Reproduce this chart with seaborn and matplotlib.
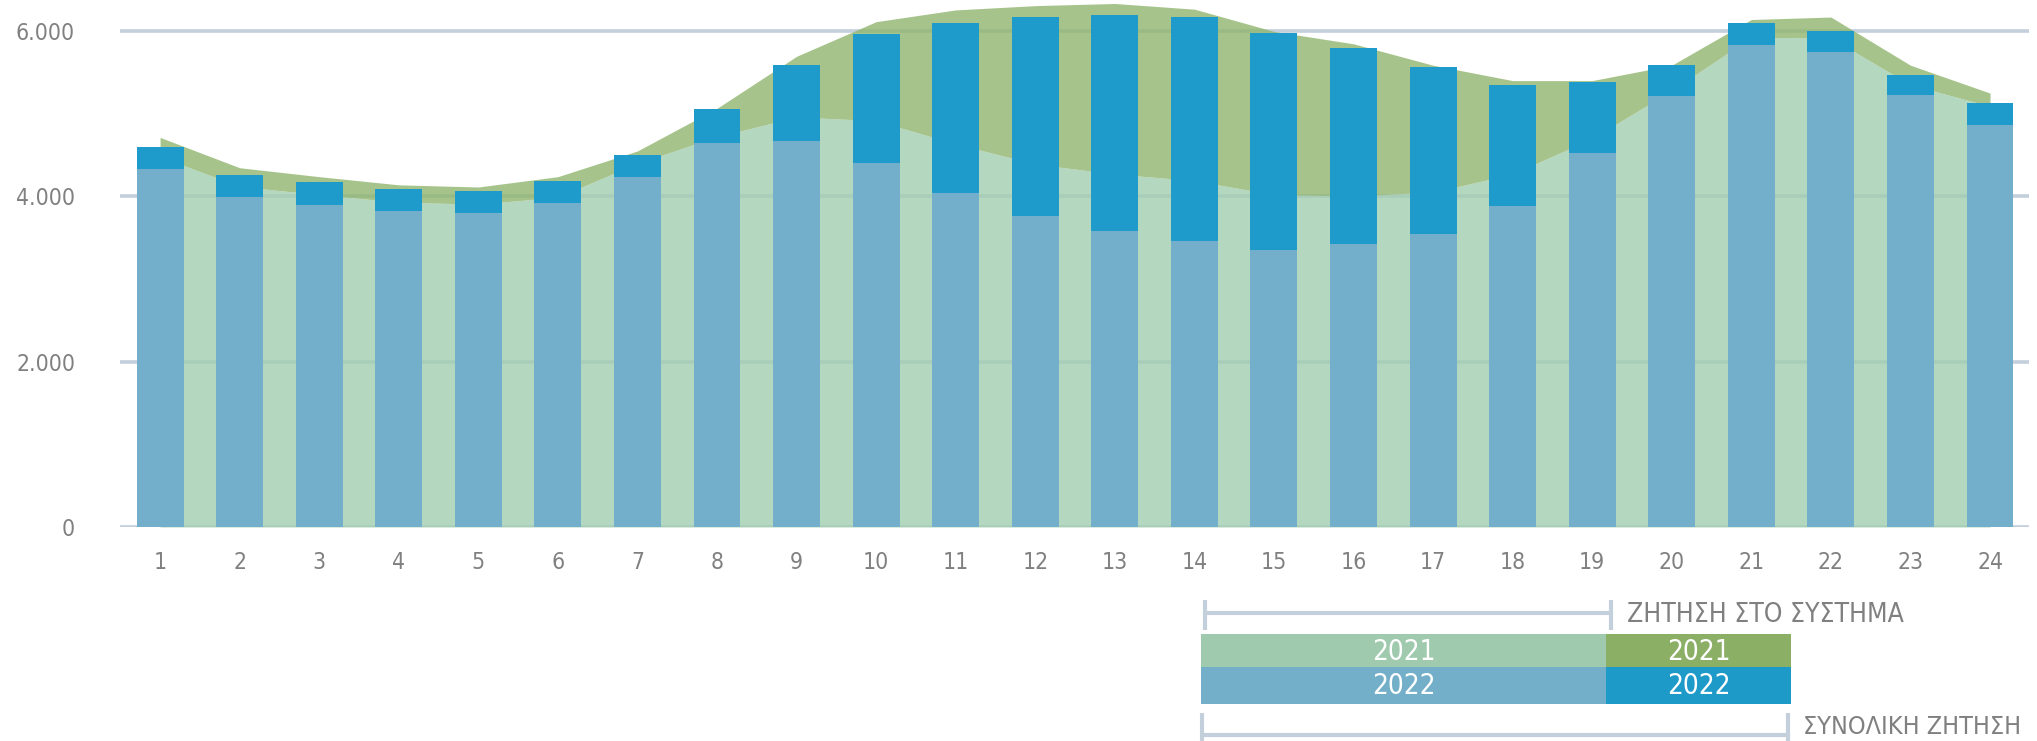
import numpy as np
import pandas as pd
import seaborn as sns
import matplotlib.pyplot as plt
from matplotlib.patches import Rectangle

hours = [str(h) for h in range(1, 25)]

# 2022: ζήτηση στο σύστημα και συνολική ζήτηση (MW)
sys_2022 = [4330, 3995, 3895, 3820, 3800, 3920, 4235, 4645, 4675, 4405,
            4045, 3760, 3585, 3460, 3345, 3420, 3540, 3880, 4530, 5210,
            5835, 5740, 5230, 4865]
total_2022 = [4598, 4262, 4168, 4091, 4062, 4186, 4500, 5055, 5590, 5960,
              6100, 6172, 6198, 6172, 5980, 5790, 5570, 5350, 5380, 5590,
              6095, 6000, 5465, 5132]

# 2021: ζήτηση στο σύστημα και συνολική ζήτηση (MW)
sys_2021 = [4480, 4120, 4020, 3930, 3905, 3990, 4400, 4720, 4960, 4915,
            4635, 4390, 4270, 4190, 4020, 4005, 4050, 4270, 4700, 5280,
            5925, 5915, 5350, 5090]
total_2021 = [4713, 4346, 4238, 4139, 4113, 4238, 4549, 5065, 5694, 6113,
              6255, 6307, 6333, 6264, 5995, 5845, 5586, 5400, 5400, 5586,
              6139, 6169, 5586, 5249]

df = pd.DataFrame({'hour': hours, 'sys_2022': sys_2022, 'total_2022': total_2022,
                   'sys_2021': sys_2021, 'total_2021': total_2021})

sns.set_style("white")
plt.rcParams['font.family'] = ['DejaVu Sans']
plt.rcParams['font.stretch'] = 'condensed'
plt.rcParams['font.weight'] = 'light'

W, H = 2037, 741
fig = plt.figure(figsize=(W / 100, H / 100), dpi=100)
ax = fig.add_axes([119.5 / W, (H - 527) / H, (2029 - 119.5) / W, 527 / H])

grid_c = '#c4cfdc'
for v in [0, 2000, 4000, 6000]:
    ax.axhline(v, color=grid_c, lw=2.6, zorder=0)

# 2021 σαν περιοχές πίσω από τις μπάρες
x = np.arange(len(hours))
ax.fill_between(x, 0, df['sys_2021'], color='#a1cdb0', alpha=0.8, lw=0, zorder=1)
ax.fill_between(x, df['sys_2021'], df['total_2021'], color='#90b56f', alpha=0.8, lw=0, zorder=1)

# 2022 στοιβαγμένες μπάρες
sns.barplot(data=df, x='hour', y='total_2022', color='#1e9acb', saturation=1,
            width=0.59, ax=ax, zorder=2, linewidth=0, edgecolor='none')
sns.barplot(data=df, x='hour', y='sys_2022', color='#73afca', saturation=1,
            width=0.59, ax=ax, zorder=3, linewidth=0, edgecolor='none')

ax.set_xlim(-0.51, 23.49)
ax.set_ylim(0, 6375)
ax.set_yticks([0, 2000, 4000, 6000])
ax.set_yticklabels(['0', '2.000', '4.000', '6.000'])
ax.set_xlabel('')
ax.set_ylabel('')
ax.tick_params(axis='both', length=0, labelsize=16.5, labelcolor='#808080')
ax.tick_params(axis='y', pad=32)
ax.tick_params(axis='x', pad=17)
for s in ax.spines.values():
    s.set_visible(False)
ax.patch.set_alpha(0)

# υπόμνημα σε pixel του σχήματος
lg = fig.add_axes([0, 0, 1, 1], zorder=5)
lg.set_xlim(0, W)
lg.set_ylim(H, 0)
lg.axis('off')
lg.patch.set_alpha(0)

lg.plot([1205, 1611], [613, 613], color=grid_c, lw=3, solid_capstyle='butt')
lg.plot([1205, 1205], [600, 630], color=grid_c, lw=3, solid_capstyle='butt')
lg.plot([1611, 1611], [600, 630], color=grid_c, lw=3, solid_capstyle='butt')
lg.text(1627, 615, 'ΖΗΤΗΣΗ ΣΤΟ ΣΥΣΤΗΜΑ', color='#808080', fontsize=19, va='center', ha='left')

boxes = [(1201, 634, 405, 33, '#9fcaad', '2021'), (1606, 634, 185, 33, '#8caf66', '2021'),
         (1201, 667, 405, 37, '#73afc9', '2022'), (1606, 667, 185, 37, '#1e9ac9', '2022')]
for bx, by, bw, bh, bc, lab in boxes:
    lg.add_patch(Rectangle((bx, by), bw, bh, color=bc, lw=0))
    lg.text(bx + bw / 2, by + bh / 2 + 1, lab, color='white', fontsize=20, ha='center', va='center')

lg.plot([1202, 1788], [735, 735], color=grid_c, lw=3, solid_capstyle='butt')
lg.plot([1202, 1202], [713, 741], color=grid_c, lw=3, solid_capstyle='butt')
lg.plot([1788, 1788], [713, 741], color=grid_c, lw=3, solid_capstyle='butt')
lg.text(1803, 727, 'ΣΥΝΟΛΙΚΗ ΖΗΤΗΣΗ', color='#808080', fontsize=18, va='center', ha='left')

fig.savefig('out.png', dpi=100)
